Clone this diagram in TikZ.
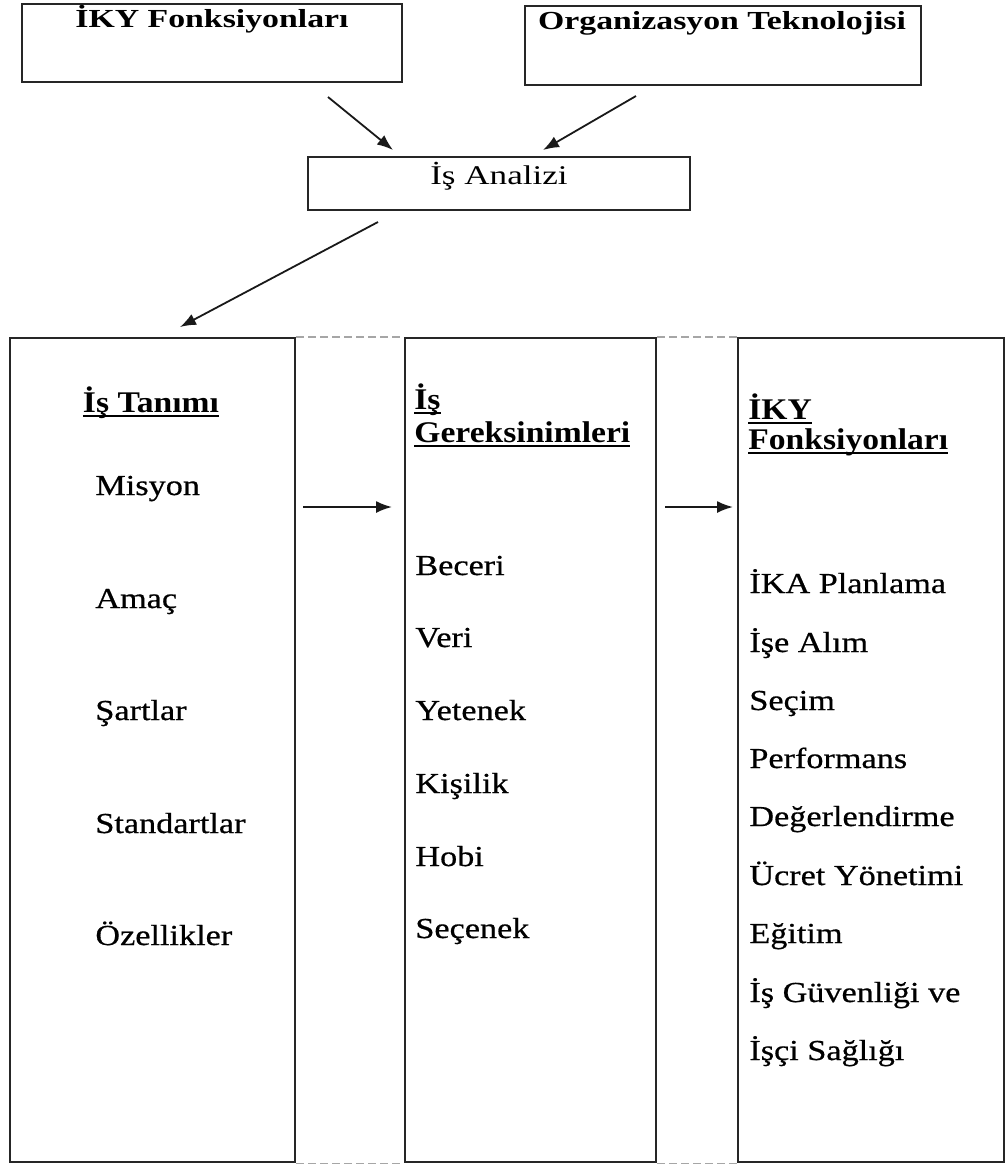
\documentclass[tikz,border=0pt]{standalone}
\usepackage{fontspec}
\usetikzlibrary{arrows.meta,fit}
\setmainfont{Liberation Serif}
\newfontfamily\topfont{Liberation Serif}[FakeStretch=1.3]
\newfontfamily\itemfont{Liberation Serif}[FakeStretch=1.18,FakeBold=0.6]
\newfontfamily\headfont{Liberation Serif}[FakeStretch=1.12]
% heavy underline for the column headings
\newcommand\hdul[1]{\setbox0\hbox{#1}\rlap{\rule[-2.4pt]{\wd0}{1pt}}\box0}
\begin{document}
\begin{tikzpicture}[x=0.5pt,y=-0.5pt,
  box/.style={draw=black!85,line width=1.1pt,inner sep=0pt},
  toplabel/.style={font=\topfont\fontsize{13pt}{15pt}\selectfont\bfseries,inner sep=0pt,anchor=base},
  midlabel/.style={font=\topfont\fontsize{13.5pt}{15pt}\selectfont,inner sep=0pt,anchor=base},
  heading/.style={font=\headfont\fontsize{15pt}{16.5pt}\selectfont\bfseries,inner sep=0pt,align=left},
  item/.style={font=\itemfont\fontsize{14.5pt}{17pt}\selectfont,inner sep=0pt,anchor=base west},
  arr/.style={line width=0.9pt,black!90,-{Latex[length=8pt,width=6pt]}},
  joint/.style={dashed,dash pattern=on 4pt off 2pt,black!35,line width=0.6pt}]
\useasboundingbox (0,0) rectangle (1006,1164);

% corner points of the frames
\coordinate (t1a) at (22,4);    \coordinate (t1b) at (402,82);
\coordinate (t2a) at (525,6);   \coordinate (t2b) at (921,85);
\coordinate (ana) at (308,157); \coordinate (anb) at (690,210);
\coordinate (baa) at (10,338);  \coordinate (bab) at (295,1162);
\coordinate (bba) at (405,338); \coordinate (bbb) at (656,1162);
\coordinate (bca) at (738,338); \coordinate (bcb) at (1004,1162);

\node[box,fit=(t1a)(t1b)] (top1) {};
\node[box,fit=(t2a)(t2b)] (top2) {};
\node[box,fit=(ana)(anb)] (analiz) {};
\node[box,fit=(baa)(bab)] (colA) {};
\node[box,fit=(bba)(bbb)] (colB) {};
\node[box,fit=(bca)(bcb)] (colC) {};

% dashed joints between the columns
\draw[joint] (colA.north east) -- (colB.north west);
\draw[joint] (colB.north east) -- (colC.north west);
\draw[joint] (colA.south east) -- (colB.south west);
\draw[joint] (colB.south east) -- (colC.south west);

% titles of the upper frames
\node[toplabel] (l1) at (212,27) {İKY Fonksiyonları};
\node[toplabel] (l2) at (722,29) {Organizasyon Teknolojisi};
\node[midlabel] (l3) at (499,184) {İş Analizi};

% arrow ends
\coordinate (p1s) at (328,97);  \coordinate (p1e) at (393,150);
\coordinate (p2s) at (636,96);  \coordinate (p2e) at (543,150);
\coordinate (p3s) at (378,222); \coordinate (p3e) at (180,327);
\coordinate (p4s) at (303,507); \coordinate (p4e) at (392,507);
\coordinate (p5s) at (665,507); \coordinate (p5e) at (733,507);
\draw[arr] (p1s) -- (p1e);
\draw[arr] (p2s) -- (p2e);
\draw[arr] (p3s) -- (p3e);
\draw[arr] (p4s) -- (p4e);
\draw[arr] (p5s) -- (p5e);

% column A
\node[heading,anchor=base] (hA) at (151,412) {\hdul{İş Tanımı}};
\node[item] (a1) at (95,495) {Misyon};
\node[item] (a2) at (95,608) {Amaç};
\node[item] (a3) at (95,720) {Şartlar};
\node[item] (a4) at (95,833) {Standartlar};
\node[item] (a5) at (95,945) {Özellikler};

% column B
\node[heading,anchor=base west] (hB1) at (414,409) {\hdul{İş}};
\node[heading,anchor=base west] (hB2) at (414,442) {\hdul{Gereksinimleri}};
\node[item] (b1) at (415,575) {Beceri};
\node[item] (b2) at (415,647) {Veri};
\node[item] (b3) at (415,720) {Yetenek};
\node[item] (b4) at (415,793) {Kişilik};
\node[item] (b5) at (415,866) {Hobi};
\node[item] (b6) at (415,938) {Seçenek};

% column C
\node[heading,anchor=base west] (hC1) at (748,419) {\hdul{İKY}};
\node[heading,anchor=base west] (hC2) at (748,449) {\hdul{Fonksiyonları}};
\node[item] (c1) at (749,593) {İKA Planlama};
\node[item] (c2) at (749,652) {İşe Alım};
\node[item] (c3) at (749,710) {Seçim};
\node[item] (c4) at (749,768) {Performans};
\node[item] (c5) at (749,826) {Değerlendirme};
\node[item] (c6) at (749,885) {Ücret Yönetimi};
\node[item] (c7) at (749,943) {Eğitim};
\node[item] (c8) at (749,1002) {İş Güvenliği ve};
\node[item] (c9) at (749,1060) {İşçi Sağlığı};
\end{tikzpicture}
\end{document}
